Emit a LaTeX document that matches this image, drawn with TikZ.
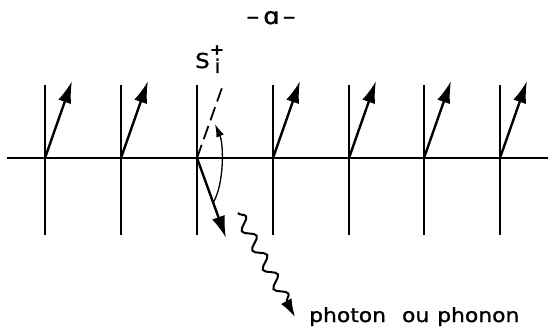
\documentclass[tikz,border=0pt]{standalone}
\usepackage{fontspec}
\setmainfont[FakeBold=1.2,FakeStretch=1.12]{DejaVu Sans}
\usetikzlibrary{arrows.meta,decorations.pathmorphing,calc}
\tikzset{
  grid/.style={line width=1.3pt},
  axis/.style={line width=1.6pt},
  spin/.style={line width=2.4pt,-{Latex[length=22pt,width=13.5pt]}},
  lbl/.style={inner sep=0pt,font=\fontsize{19.5}{21}\selectfont},
}
\begin{document}
\begin{tikzpicture}[x=1pt,y=-1pt]
\useasboundingbox (0,0) rectangle (552,329);
% horizontal axis
\coordinate (L) at (7,158);
\coordinate (R) at (548,158);
\draw[axis] (L) -- (R);
% sites
\foreach \i/\x in {1/45,2/121,3/197,4/273,5/349,6/424,7/500}{
  \coordinate (t\i) at (\x,85);
  \coordinate (b\i) at (\x,235);
  \coordinate (p\i) at (\x,158);
  \draw[grid] (t\i) -- (b\i);
}
% up spins
\foreach \i in {1,2,4,5,6,7}{
  \coordinate (s\i) at ($(p\i)+(27,-77)$);
  \draw[spin] (p\i) -- (s\i);
}
% dashed original spin
\coordinate (d3) at (223,85);
\draw[line width=1.8pt,dash pattern=on 14pt off 6pt] (p3) -- (d3);
% flipped spin
\coordinate (f3) at (226,238);
\draw[spin] (p3) -- (f3);
% rotation arrow
\coordinate (ra) at (213,203);
\coordinate (rb) at (215,124);
\draw[line width=1.3pt,-{Latex[length=13pt,width=8pt]}] (ra) .. controls (224,185) and (224,145) .. (rb);
% emitted quantum
\coordinate (w0) at (238,213);
\coordinate (w1) at (295,317);
\draw[line width=2pt,-{Latex[length=18pt,width=12pt]},
  decorate,decoration={snake,amplitude=5.5pt,segment length=22pt,post length=16pt}] (w0) -- (w1);
% labels
\node[lbl,anchor=base west] (ph) at (309,322) {photon\hspace{16pt}ou\hspace{8pt}phonon};
\node[inner sep=0pt,font=\fontsize{20.5}{22}\selectfont,anchor=base west] (S) at (195,68) {S};
\node[inner sep=0pt,font=\fontsize{15}{16}\selectfont\bfseries] (plus) at (217,50) {+};
\node[inner sep=0pt,font=\fontsize{19}{20}\selectfont,anchor=base] (sub) at (217.5,73) {i};
\node[inner sep=0pt,font=\fontsize{23}{25}\selectfont,anchor=base] (title) at (271,24) {–\hspace{4pt}ɑ\hspace{3pt}–};
\end{tikzpicture}
\end{document}
